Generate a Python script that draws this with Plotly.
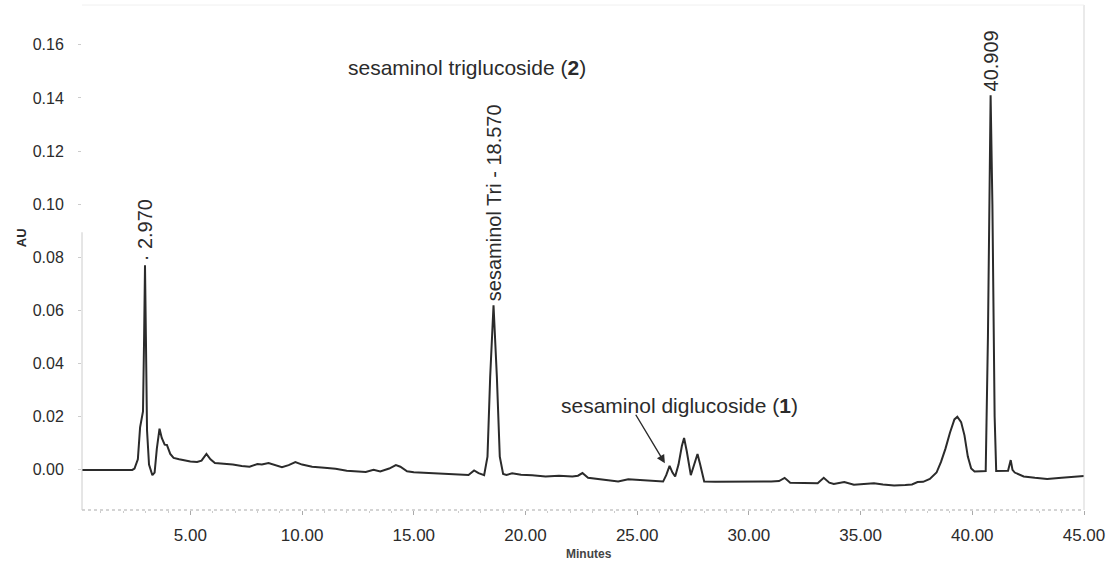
import plotly.graph_objects as go

# Retention time (minutes) and absorbance (AU)
time_min = [
    0.15, 1.0, 2.0, 2.4, 2.5, 2.65, 2.75, 2.82, 2.88, 2.93, 2.97, 3.01, 3.06, 3.15, 3.3, 3.4,
    3.5, 3.62, 3.72, 3.85, 3.95, 4.1, 4.25, 4.5, 4.8, 5.0, 5.3, 5.5, 5.72, 5.9, 6.1, 6.5,
    6.9, 7.3, 7.65, 8.0, 8.2, 8.5, 8.8, 9.1, 9.4, 9.7, 10.0, 10.45, 11.0, 11.5, 12.0, 12.5,
    12.85, 13.2, 13.5, 13.9, 14.2, 14.4, 14.7, 15.0, 16.0, 17.0, 17.45, 17.7, 17.9, 18.15,
    18.3, 18.42, 18.57, 18.72, 18.85, 19.0, 19.15, 19.4, 19.8, 20.3, 20.9, 21.5, 22.1, 22.35,
    22.55, 22.8, 23.2, 23.7, 24.15, 24.6, 25.05, 25.6, 26.16, 26.3, 26.45, 26.58, 26.7, 26.85,
    27.0, 27.1, 27.22, 27.4, 27.55, 27.7, 27.82, 28.0, 28.5, 29.0, 30.0, 31.0, 31.35, 31.6,
    31.85, 32.5, 33.08, 33.35, 33.6, 33.8, 34.27, 34.7, 35.2, 35.6, 36.0, 36.5, 37.0, 37.3,
    37.55, 37.8, 38.1, 38.4, 38.6, 38.8, 39.0, 39.2, 39.33, 39.5, 39.65, 39.8, 39.95, 40.1,
    40.4, 40.6, 40.7, 40.82, 40.9, 40.95, 41.0, 41.07, 41.3, 41.6, 41.72, 41.8, 41.9, 42.3,
    42.8, 43.35, 44.0, 44.5, 45.0,
]
absorbance_au = [
    0.0, 0.0, 0.0, 0.0, 0.0005, 0.004, 0.016, 0.019, 0.022, 0.05, 0.077, 0.05, 0.015, 0.002, -0.002, -0.001,
    0.008, 0.0155, 0.012, 0.0095, 0.0094, 0.006, 0.0045, 0.004, 0.0035, 0.0032, 0.003, 0.0035, 0.006, 0.004, 0.0026, 0.0024,
    0.002, 0.0015, 0.0012, 0.0022, 0.002, 0.0026, 0.0018, 0.001, 0.0018, 0.0029, 0.002, 0.0012, 0.0008, 0.0004, -0.0003, -0.0006,
    -0.0008, 0.0, -0.0006, 0.0005, 0.0018, 0.0012, -0.0005, -0.0009, -0.0012, -0.0016, -0.0019, -0.0002, -0.0012, -0.002,
    0.005, 0.035, 0.062, 0.035, 0.005, -0.0015, -0.0019, -0.0013, -0.0018, -0.002, -0.0025, -0.0022, -0.0025, -0.0022,
    -0.0012, -0.003, -0.0035, -0.004, -0.0044, -0.0035, -0.0038, -0.0042, -0.0044, -0.002, 0.0015, -0.001, -0.0025, 0.002,
    0.009, 0.012, 0.007, -0.002, 0.002, 0.006, 0.002, -0.0044, -0.0045, -0.0045, -0.0045, -0.0044, -0.0042, -0.003,
    -0.0048, -0.005, -0.005, -0.003, -0.0048, -0.0053, -0.0046, -0.0056, -0.0053, -0.005, -0.0055, -0.0059, -0.0057, -0.0055,
    -0.0046, -0.0045, -0.0034, -0.001, 0.003, 0.008, 0.014, 0.019, 0.020, 0.018, 0.013, 0.005, 0.0005, -0.0006,
    -0.0005, -0.0004, 0.05, 0.141, 0.10, 0.05, 0.02, -0.0004, -0.0004, -0.0003, 0.0037, 0.0, -0.001, -0.0025,
    -0.003, -0.0034, -0.003, -0.0026, -0.0023,
]

x_tick_vals = [5, 10, 15, 20, 25, 30, 35, 40, 45]
x_tick_text = ["5.00", "10.00", "15.00", "20.00", "25.00", "30.00", "35.00", "40.00", "45.00"]
y_tick_vals = [0.0, 0.02, 0.04, 0.06, 0.08, 0.10, 0.12, 0.14, 0.16]
y_tick_text = ["0.00", "0.02", "0.04", "0.06", "0.08", "0.10", "0.12", "0.14", "0.16"]

peak_labels = [
    {"t": 2.97, "au": 0.077, "text": "· 2.970"},
    {"t": 18.57, "au": 0.062, "text": "sesaminol Tri - 18.570"},
    {"t": 40.82, "au": 0.141, "text": "40.909"},
]

X_MIN, X_MAX = 0.15, 45.0
Y_MIN, Y_MAX = -0.0151, 0.175

FONT = "Liberation Sans, Arial, sans-serif"
INK = "#2b2b2b"

fig = go.Figure()
fig.add_trace(go.Scatter(
    x=time_min, y=absorbance_au, mode="lines",
    line=dict(color=INK, width=2), hoverinfo="skip", showlegend=False,
))

for p in peak_labels:
    fig.add_annotation(
        x=p["t"], y=p["au"], text=p["text"], textangle=-90,
        showarrow=False, xanchor="center", yanchor="bottom", yshift=2,
        font=dict(family=FONT, size=20, color=INK),
    )

fig.add_annotation(
    x=17.37, y=0.1514, text="sesaminol triglucoside (<b>2</b>)", showarrow=False,
    font=dict(family=FONT, size=21, color=INK),
)
fig.add_annotation(
    x=26.9, y=0.0241, text="sesaminol diglucoside (<b>1</b>)", showarrow=False,
    font=dict(family=FONT, size=21, color=INK),
)
fig.add_annotation(
    x=26.24, y=0.0025, ax=-30, ay=-50, text="", showarrow=True,
    arrowhead=2, arrowsize=1.2, arrowwidth=1.4, arrowcolor=INK,
)

fig.add_annotation(
    xref="paper", yref="paper", x=-0.07, y=0.539, text="<b>AU</b>", textangle=-90,
    showarrow=False, font=dict(family=FONT, size=13, color=INK),
)
fig.add_annotation(
    xref="paper", yref="paper", x=0.506, y=-0.105, text="<b>Minutes</b>",
    showarrow=False, font=dict(family=FONT, size=12, color="#444"),
)

# faint frame like the scanned printout
fig.add_shape(type="line", xref="paper", yref="paper", x0=0, x1=1, y0=0, y1=0,
              line=dict(color="#aaaaaa", width=1.2, dash="dot"))
fig.add_shape(type="line", xref="paper", yref="paper", x0=0, x1=0, y0=0, y1=0.55,
              line=dict(color="#cccccc", width=1))
fig.add_shape(type="line", xref="paper", yref="paper", x0=1, x1=1, y0=0, y1=1,
              line=dict(color="#d5d5d5", width=1))
fig.add_shape(type="line", xref="paper", yref="paper", x0=0, x1=1, y0=1, y1=1,
              line=dict(color="#f0f0f0", width=1))

fig.update_xaxes(
    range=[X_MIN, X_MAX], tickvals=x_tick_vals, ticktext=x_tick_text,
    showgrid=False, zeroline=False, showline=False,
    ticks="outside", ticklen=4, tickcolor="#aaaaaa",
    minor=dict(dtick=1, ticks="outside", ticklen=2, tickcolor="#cccccc"),
    tickfont=dict(family=FONT, size=17, color=INK), ticklabelstandoff=6,
)
fig.update_yaxes(
    range=[Y_MIN, Y_MAX], tickvals=y_tick_vals, ticktext=y_tick_text,
    showgrid=False, zeroline=False, showline=False,
    ticks="outside", ticklen=3, tickcolor="#cccccc",
    tickfont=dict(family=FONT, size=16, color=INK), ticklabelstandoff=11,
)

fig.update_layout(
    width=1110, height=565,
    margin=dict(l=82, r=23, t=5, b=55),
    paper_bgcolor="white", plot_bgcolor="white",
)

fig.write_html("out.html")
